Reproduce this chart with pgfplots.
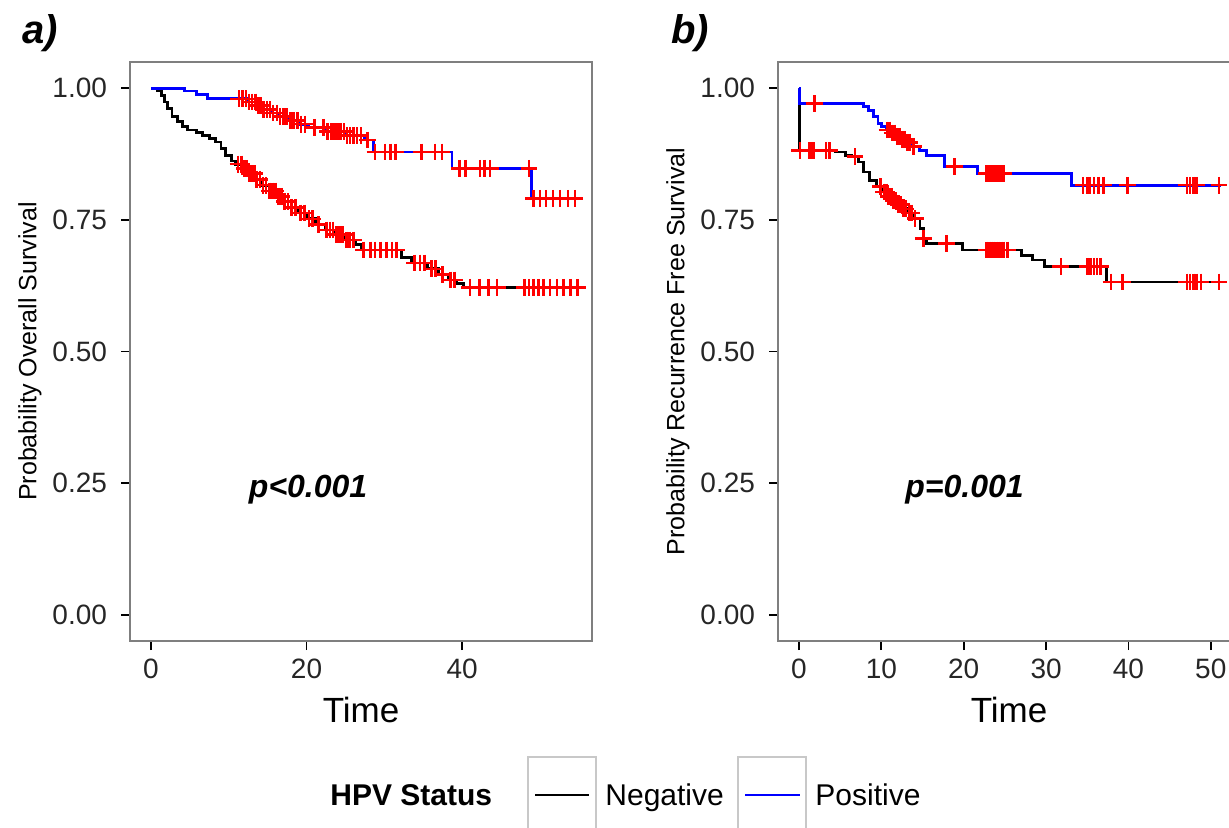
\documentclass[border=0pt]{standalone}
\usepackage{fontspec}
\setmainfont{Liberation Sans}
\usepackage{pgfplots}
\pgfplotsset{compat=1.18}

\definecolor{border}{RGB}{127,127,127}
\definecolor{keybox}{RGB}{200,200,200}
\definecolor{negc}{RGB}{0,0,0}
\definecolor{posc}{RGB}{0,0,255}
\definecolor{cens}{RGB}{255,0,0}

\pgfplotsset{
  km/.style={
    scale only axis, width=231pt, height=289.5pt, anchor=south west,
    ymin=-0.05, ymax=1.05,
    ytick={0,0.25,0.5,0.75,1}, yticklabels={0.00,0.25,0.50,0.75,1.00},
    axis line style={draw=border, line width=0.7pt},
    tick align=outside, tick pos=left,
    major tick length=4.5pt,
    every tick/.style={black, line width=0.9pt},
    tick label style={font=\fontsize{14}{16}\selectfont, text=black!85},
    xticklabel style={yshift=-1pt},
    yticklabel style={xshift=-3.5pt},
    xlabel style={font=\fontsize{17.5}{20}\selectfont, at={(axis description cs:0.5,0)}, anchor=center, yshift=-34.5pt},
    ylabel style={font=\fontsize{12.5}{15}\selectfont, at={(axis description cs:0,0.5)}, anchor=center, yshift=50pt},
    xlabel={Time},
  },
  neg/.style={const plot, color=negc, line width=1.4pt, mark=none},
  pos/.style={const plot, color=posc, line width=1.4pt, mark=none},
  cn/.style={only marks, mark=+, mark size=4.2pt, color=cens, mark options={line width=1.3pt}},
}

\begin{document}
\begin{tikzpicture}
\useasboundingbox (0,0) rectangle (614.5pt,413.5pt);
\clip (0,0) rectangle (614.5pt,413.5pt);

% panel a: overall survival
\begin{axis}[km, at={(65pt,93pt)},
    xmin=-2.7, xmax=56.7, xtick={0,20,40}, xticklabels={0,20,40},
    ylabel={Probability Overall Survival}]
\addplot[neg] coordinates {
 (0,1.0)(0.8,0.996)(1.4,0.987)(1.7,0.974)(2.1,0.962)(2.7,0.946)(3.4,0.937)(4.1,0.927)
 (4.7,0.921)(5.8,0.916)(6.6,0.910)(7.5,0.904)(8.3,0.898)(9.0,0.886)(9.6,0.873)(10.3,0.862)
 (10.9,0.856)(11.8,0.848)(12.6,0.838)(13.4,0.827)(14.3,0.816)(15.2,0.805)(16.1,0.795)
 (17.0,0.785)(18.0,0.774)(19.0,0.763)(20.0,0.752)(21.2,0.741)(22.4,0.731)(23.6,0.722)
 (25.0,0.712)(26.3,0.703)(27.0,0.693)(32.2,0.678)(33.5,0.668)(35.6,0.657)(37.0,0.646)
 (38.2,0.636)(39.3,0.629)(40.2,0.622)(54.8,0.622)};
\addplot[pos] coordinates {
 (0,1.0)(4.3,0.995)(5.8,0.989)(7.3,0.980)(12.5,0.974)(13.5,0.967)(14.5,0.960)(15.5,0.953)
 (16.5,0.946)(17.8,0.939)(19.0,0.932)(20.2,0.926)(22.5,0.918)(25.0,0.910)(27.5,0.902)
 (28.6,0.879)(38.7,0.848)(48.9,0.791)(54.8,0.791)};
\addplot[cn] coordinates {
 (11.2,0.856)(11.6,0.856)(12.0,0.848)(12.3,0.848)(12.7,0.838)(13.0,0.838)(13.3,0.838)
 (13.6,0.827)(14.0,0.827)(14.4,0.816)(14.8,0.816)(15.2,0.805)(15.6,0.805)(16.0,0.805)
 (16.4,0.795)(16.8,0.795)(17.2,0.785)(17.6,0.785)(18.1,0.774)(18.6,0.774)(19.2,0.763)
 (19.7,0.763)(20.3,0.752)(20.8,0.752)(21.5,0.741)(22.6,0.731)(23.0,0.731)(23.4,0.731)
 (23.8,0.722)(24.1,0.722)(24.4,0.722)(24.7,0.722)(25.1,0.712)(25.5,0.712)(26.0,0.712)
 (27.3,0.693)(28.2,0.693)(28.8,0.693)(29.5,0.693)(30.3,0.693)(31.0,0.693)(31.6,0.693)
 (33.9,0.668)(34.6,0.668)(35.2,0.668)(36.1,0.657)(36.6,0.657)(37.5,0.646)(38.5,0.636)
 (39.0,0.636)(41.0,0.622)(42.2,0.622)(43.4,0.622)(44.5,0.622)(48.0,0.622)(48.6,0.622)
 (49.2,0.622)(49.8,0.622)(50.5,0.622)(51.3,0.622)(52.2,0.622)(53.0,0.622)(53.9,0.622)
 (54.8,0.622)};
\addplot[cn] coordinates {
 (11.3,0.980)(11.8,0.980)(12.2,0.980)(12.6,0.974)(13.0,0.974)(13.4,0.974)(13.8,0.967)
 (14.1,0.967)(14.5,0.960)(14.9,0.960)(15.3,0.960)(15.7,0.953)(16.2,0.953)(16.6,0.946)
 (17.0,0.946)(17.4,0.946)(17.9,0.939)(18.3,0.939)(18.8,0.939)(19.3,0.932)(19.8,0.932)
 (21.0,0.926)(22.2,0.926)(22.7,0.918)(23.2,0.918)(23.6,0.918)(24.0,0.918)(24.4,0.918)
 (24.8,0.918)(25.2,0.910)(25.6,0.910)(26.0,0.910)(26.5,0.910)(27.0,0.910)(27.8,0.902)
 (28.8,0.879)(30.1,0.879)(30.8,0.879)(31.4,0.879)(34.8,0.879)(36.5,0.879)(37.4,0.879)
 (39.7,0.848)(40.4,0.848)(42.3,0.848)(42.9,0.848)(43.6,0.848)(48.6,0.848)
 (49.2,0.791)(50.0,0.791)(50.8,0.791)(51.7,0.791)(52.6,0.791)(53.6,0.791)(54.5,0.791)};
\node[font=\bfseries\itshape\fontsize{16}{18}\selectfont] at (axis cs:20.2,0.237) {p<0.001};
\end{axis}

% panel b: recurrence free survival
\begin{axis}[km, at={(389pt,93pt)},
    xmin=-2.55, xmax=53.55, xtick={0,10,20,30,40,50}, xticklabels={0,10,20,30,40,50},
    ylabel={Probability Recurrence Free Survival}]
\addplot[neg] coordinates {
 (0,1.0)(0.1,0.882)(4.4,0.879)(5.6,0.873)(6.4,0.870)(7.2,0.860)(7.8,0.841)(8.6,0.825)
 (9.4,0.813)(10.2,0.803)(10.8,0.795)(11.4,0.787)(12.0,0.779)(12.6,0.771)(13.2,0.763)
 (13.9,0.753)(14.7,0.734)(15.1,0.715)(15.5,0.705)(19.9,0.693)(27.0,0.683)(28.4,0.674)
 (29.8,0.662)(37.3,0.632)(51.2,0.632)};
\addplot[pos] coordinates {
 (0,1.0)(0.1,0.971)(7.8,0.965)(8.4,0.958)(9.0,0.946)(9.6,0.933)(10.0,0.927)(10.6,0.921)
 (11.2,0.915)(11.8,0.909)(12.4,0.903)(13.0,0.897)(13.8,0.890)(14.6,0.882)(15.5,0.873)
 (17.7,0.851)(21.7,0.838)(33.05,0.816)(51.2,0.816)};
\addplot[cn] coordinates {
 (0.1,0.882)(1.2,0.882)(1.5,0.882)(1.8,0.882)(3.3,0.882)(3.7,0.882)(6.8,0.870)
 (9.9,0.813)(10.3,0.803)(10.6,0.803)(10.9,0.795)(11.2,0.795)(11.5,0.787)(11.8,0.787)
 (12.1,0.779)(12.4,0.779)(12.7,0.771)(13.0,0.771)(13.4,0.763)(13.7,0.763)(14.1,0.753)
 (15.1,0.715)(17.9,0.705)(22.8,0.693)(23.1,0.693)(23.4,0.693)(23.7,0.693)(24.0,0.693)
 (24.3,0.693)(24.6,0.693)(24.9,0.693)(25.3,0.693)(31.8,0.662)(35.0,0.662)(35.4,0.662)
 (35.8,0.662)(36.2,0.662)(36.6,0.662)(37.9,0.632)(39.3,0.632)(47.1,0.632)(47.5,0.632)
 (47.9,0.632)(48.3,0.632)(48.8,0.632)(51.0,0.632)};
\addplot[cn] coordinates {
 (1.9,0.971)(10.7,0.921)(11.0,0.921)(11.3,0.915)(11.6,0.915)(11.9,0.909)(12.2,0.909)
 (12.5,0.903)(12.8,0.903)(13.1,0.897)(13.4,0.897)(13.9,0.890)(18.9,0.851)
 (22.8,0.838)(23.1,0.838)(23.4,0.838)(23.7,0.838)(24.0,0.838)(24.3,0.838)(24.6,0.838)
 (24.9,0.838)(34.5,0.816)(35.0,0.816)(35.3,0.816)(35.8,0.816)(36.4,0.816)(37.0,0.816)
 (39.9,0.816)(47.1,0.816)(47.5,0.816)(47.9,0.816)(48.3,0.816)(51.0,0.816)};
\node[font=\bfseries\itshape\fontsize{16}{18}\selectfont] at (axis cs:20.1,0.237) {p=0.001};
\end{axis}

% panel tags
\node[font=\bfseries\itshape\fontsize{20}{22}\selectfont] at (20pt,397pt) {a)};
\node[font=\bfseries\itshape\fontsize{20}{22}\selectfont] at (345pt,397pt) {b)};

% legend
\node[anchor=base west, font=\bfseries\fontsize{15}{17}\selectfont, inner sep=0pt] at (165pt,10.6pt) {HPV Status};
\draw[keybox, line width=0.6pt] (264pt,-4pt) rectangle (298pt,35pt);
\draw[negc, line width=1.2pt] (267.5pt,16pt) -- (294.5pt,16pt);
\node[anchor=base west, font=\fontsize{15}{17}\selectfont, inner sep=0pt] at (302.5pt,10.6pt) {Negative};
\draw[keybox, line width=0.6pt] (369pt,-4pt) rectangle (403pt,35pt);
\draw[posc, line width=1.2pt] (372.5pt,16pt) -- (400pt,16pt);
\node[anchor=base west, font=\fontsize{15}{17}\selectfont, inner sep=0pt] at (407.5pt,10.6pt) {Positive};
\end{tikzpicture}
\end{document}
